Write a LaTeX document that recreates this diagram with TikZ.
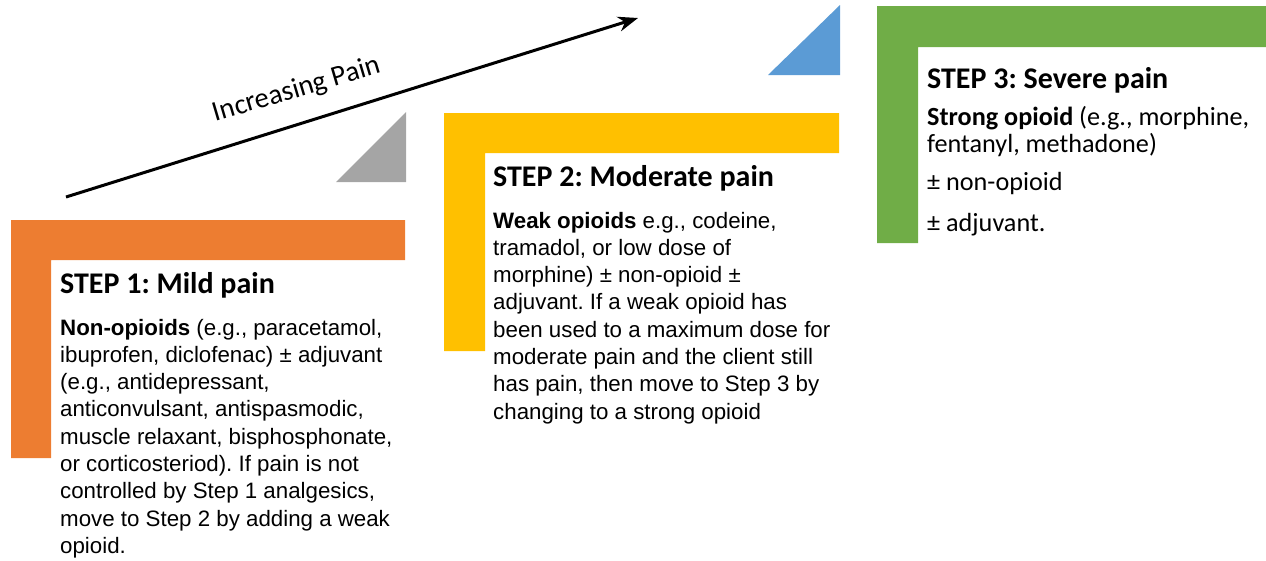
\documentclass[tikz,border=0pt]{standalone}
\usepackage{fontspec}
\usetikzlibrary{arrows.meta}
\newfontfamily\calibri{Carlito}
\newfontfamily\arialf{Liberation Sans}
\definecolor{stepor}{HTML}{ED7D31}
\definecolor{stepye}{HTML}{FFC000}
\definecolor{stepgr}{HTML}{70AD47}
\definecolor{stepbl}{HTML}{5B9BD5}
\definecolor{stepgy}{HTML}{A5A5A5}
\tikzset{
  heading/.style={anchor=base west, inner sep=0pt, font=\calibri\bfseries\fontsize{30}{36}\selectfont},
  armbody/.style={anchor=base west, inner sep=0pt, font=\arialf\fontsize{22.3}{27.3}\selectfont},
  calbody/.style={anchor=base west, inner sep=0pt, font=\calibri\fontsize{26.2}{27}\selectfont},
}
\begin{document}
\frenchspacing
\begin{tikzpicture}[x=1pt,y=-1pt]
\useasboundingbox (0,0) rectangle (1266,560);
% L shapes
\fill[stepor] (11,220) -- (405,220) -- (405,260) -- (51,260) -- (51,458) -- (11,458) -- cycle;
\fill[stepye] (444,113) -- (839,113) -- (839,153) -- (485,153) -- (485,351) -- (444,351) -- cycle;
\fill[stepgr] (877,6) -- (1266,6) -- (1266,47) -- (918,47) -- (918,243) -- (877,243) -- cycle;
% triangles
\fill[stepgy] (336,182) -- (406,182) -- (406,112) -- cycle;
\fill[stepbl] (768,75) -- (840,75) -- (840,5) -- cycle;
% arrow
\coordinate (arrS) at (66,197);
\coordinate (arrE) at (638,18);
\draw[line width=3pt, -{Stealth[length=20pt,width=15pt]}] (arrS) -- (arrE);
\node[inner sep=0pt, anchor=base, rotate=16.5, font=\calibri\fontsize{28.5}{34}\selectfont] (incr) at (299,97) {Increasing Pain};
% step 1
\node[heading] (h1) at (60,293) {STEP 1: Mild pain};
\node[armbody] (b1) at (60,335) {\vtop{%
\hbox{\textbf{Non-opioids} (e.g., paracetamol,}
\hbox{ibuprofen, diclofenac) ± adjuvant}
\hbox{(e.g., antidepressant,}
\hbox{anticonvulsant, antispasmodic,}
\hbox{muscle relaxant, bisphosphonate,}
\hbox{or corticosteriod). If pain is not}
\hbox{controlled by Step 1 analgesics,}
\hbox{move to Step 2 by adding a weak}
\hbox{opioid.}}};
% step 2
\node[heading] (h2) at (493,186) {STEP 2: Moderate pain};
\node[armbody] (b2) at (493,228) {\vtop{%
\hbox{\textbf{Weak opioids} e.g., codeine,}
\hbox{tramadol, or low dose of}
\hbox{morphine) ± non-opioid ±}
\hbox{adjuvant. If a weak opioid has}
\hbox{been used to a maximum dose for}
\hbox{moderate pain and the client still}
\hbox{has pain, then move to Step 3 by}
\hbox{changing to a strong opioid}}};
% step 3
\node[heading] (h3) at (927,88) {STEP 3: Severe pain};
\node[calbody] (b3a) at (927,125) {\vtop{%
\hbox{\textbf{Strong opioid} (e.g., morphine,}
\hbox{fentanyl, methadone)}}};
\node[calbody] (b3b) at (927,190) {± non-opioid};
\node[calbody] (b3c) at (927,231) {± adjuvant.};
\end{tikzpicture}
\end{document}
